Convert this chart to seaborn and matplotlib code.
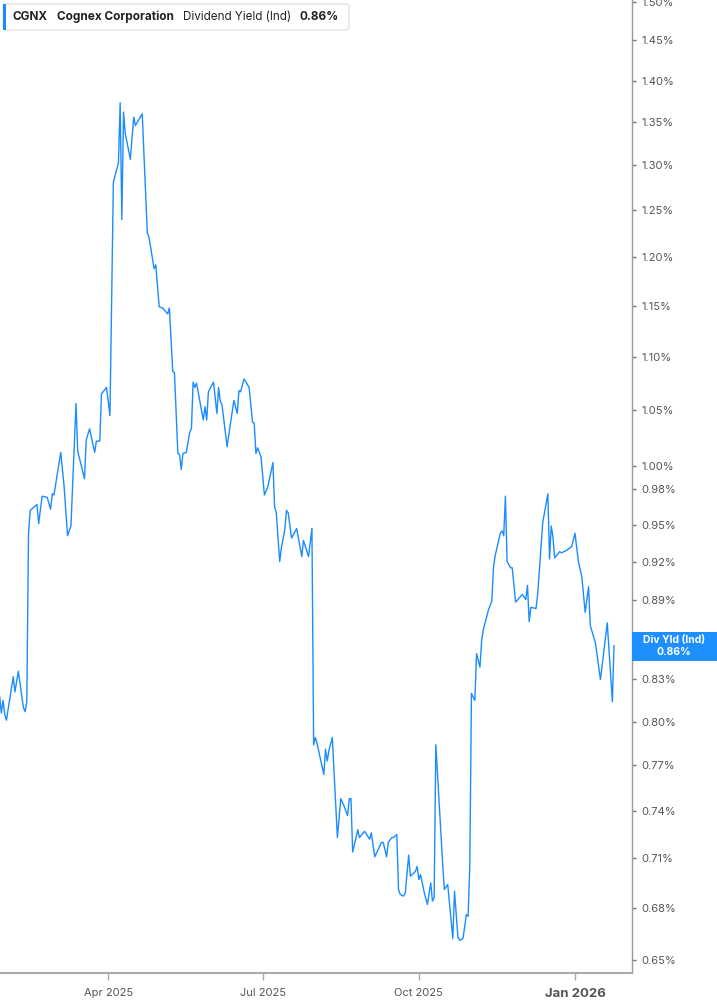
import pandas as pd
import numpy as np
import matplotlib.pyplot as plt
import matplotlib.dates as mdates
from matplotlib.patches import Rectangle, FancyBboxPatch
from matplotlib.ticker import FixedLocator, FuncFormatter, NullLocator
import seaborn as sns

sns.set_style('white')
plt.rcParams['font.family'] = ['Inter', 'DejaVu Sans']

# dividend yield (%)
dates = ['2025-01-27', '2025-01-28', '2025-01-29', '2025-01-30', '2025-01-31', '2025-02-04',
         '2025-02-05', '2025-02-07', '2025-02-10', '2025-02-11', '2025-02-12', '2025-02-13',
         '2025-02-14', '2025-02-18', '2025-02-19', '2025-02-21', '2025-02-24', '2025-02-26',
         '2025-02-27', '2025-02-28', '2025-03-04', '2025-03-06', '2025-03-08', '2025-03-10',
         '2025-03-13', '2025-03-14', '2025-03-18', '2025-03-19', '2025-03-21', '2025-03-24',
         '2025-03-25', '2025-03-27', '2025-03-28', '2025-03-31', '2025-04-02', '2025-04-04',
         '2025-04-07', '2025-04-08', '2025-04-09', '2025-04-10', '2025-04-11', '2025-04-14',
         '2025-04-16', '2025-04-17', '2025-04-21', '2025-04-24', '2025-04-25', '2025-04-28',
         '2025-04-29', '2025-05-01', '2025-05-03', '2025-05-06', '2025-05-07', '2025-05-09',
         '2025-05-10', '2025-05-12', '2025-05-13', '2025-05-14', '2025-05-15', '2025-05-17',
         '2025-05-19', '2025-05-20', '2025-05-21', '2025-05-22', '2025-05-23', '2025-05-27',
         '2025-05-28', '2025-05-29', '2025-05-30', '2025-06-02', '2025-06-04', '2025-06-05',
         '2025-06-06', '2025-06-07', '2025-06-10', '2025-06-12', '2025-06-14', '2025-06-16',
         '2025-06-17', '2025-06-18', '2025-06-20', '2025-06-23', '2025-06-25', '2025-06-26',
         '2025-06-27', '2025-06-28', '2025-06-30', '2025-07-02', '2025-07-04', '2025-07-07',
         '2025-07-08', '2025-07-09', '2025-07-11', '2025-07-12', '2025-07-14', '2025-07-15',
         '2025-07-16', '2025-07-18', '2025-07-21', '2025-07-24', '2025-07-25', '2025-07-28',
         '2025-07-30', '2025-07-31', '2025-08-01', '2025-08-02', '2025-08-06', '2025-08-07',
         '2025-08-08', '2025-08-09', '2025-08-11', '2025-08-14', '2025-08-16', '2025-08-18',
         '2025-08-20', '2025-08-21', '2025-08-22', '2025-08-23', '2025-08-25', '2025-08-26',
         '2025-08-27', '2025-08-30', '2025-09-02', '2025-09-03', '2025-09-05', '2025-09-09',
         '2025-09-10', '2025-09-12', '2025-09-13', '2025-09-15', '2025-09-16', '2025-09-18',
         '2025-09-19', '2025-09-20', '2025-09-22', '2025-09-23', '2025-09-25', '2025-09-26',
         '2025-09-29', '2025-09-30', '2025-10-01', '2025-10-02', '2025-10-04', '2025-10-06',
         '2025-10-08', '2025-10-09', '2025-10-10', '2025-10-11', '2025-10-15', '2025-10-16',
         '2025-10-18', '2025-10-21', '2025-10-22', '2025-10-24', '2025-10-25', '2025-10-27',
         '2025-10-29', '2025-10-30', '2025-10-31', '2025-11-01', '2025-11-03', '2025-11-04',
         '2025-11-06', '2025-11-07', '2025-11-08', '2025-11-11', '2025-11-13', '2025-11-14',
         '2025-11-15', '2025-11-18', '2025-11-19', '2025-11-20', '2025-11-21', '2025-11-22',
         '2025-11-24', '2025-11-25', '2025-11-27', '2025-12-01', '2025-12-03', '2025-12-04',
         '2025-12-05', '2025-12-06', '2025-12-09', '2025-12-10', '2025-12-13', '2025-12-16',
         '2025-12-17', '2025-12-18', '2025-12-19', '2025-12-20', '2025-12-23', '2025-12-24',
         '2025-12-27', '2025-12-30', '2026-01-01', '2026-01-03', '2026-01-05', '2026-01-07',
         '2026-01-09', '2026-01-10', '2026-01-13', '2026-01-16', '2026-01-20', '2026-01-23',
         '2026-01-24']
yields = [0.818, 0.806, 0.815, 0.805, 0.801, 0.832,
          0.821, 0.836, 0.810, 0.807, 0.814, 0.943,
          0.962, 0.967, 0.951, 0.974, 0.973, 0.963,
          0.976, 0.975, 1.012, 0.982, 0.941, 0.949,
          1.056, 1.013, 0.989, 1.023, 1.033, 1.012,
          1.022, 1.022, 1.065, 1.071, 1.045, 1.281,
          1.303, 1.373, 1.240, 1.362, 1.337, 1.307,
          1.356, 1.346, 1.360, 1.226, 1.221, 1.188,
          1.192, 1.149, 1.148, 1.142, 1.148, 1.086,
          1.085, 1.011, 1.010, 0.997, 1.011, 1.012,
          1.030, 1.033, 1.076, 1.071, 1.075, 1.041,
          1.053, 1.041, 1.067, 1.076, 1.047, 1.071,
          1.058, 1.055, 1.017, 1.038, 1.059, 1.047,
          1.068, 1.067, 1.079, 1.071, 1.039, 1.038,
          1.011, 1.016, 1.008, 0.975, 0.982, 1.003,
          0.965, 0.960, 0.920, 0.931, 0.946, 0.962,
          0.960, 0.939, 0.947, 0.924, 0.937, 0.924,
          0.947, 0.784, 0.789, 0.785, 0.764, 0.781,
          0.773, 0.780, 0.789, 0.723, 0.748, 0.743,
          0.737, 0.748, 0.748, 0.714, 0.723, 0.728,
          0.723, 0.727, 0.722, 0.726, 0.711, 0.720,
          0.720, 0.711, 0.720, 0.723, 0.723, 0.725,
          0.691, 0.688, 0.687, 0.689, 0.712, 0.699,
          0.702, 0.705, 0.697, 0.700, 0.690, 0.682,
          0.695, 0.684, 0.686, 0.784, 0.707, 0.691,
          0.694, 0.662, 0.690, 0.663, 0.661, 0.662,
          0.676, 0.675, 0.705, 0.820, 0.815, 0.849,
          0.839, 0.859, 0.867, 0.882, 0.889, 0.916,
          0.925, 0.943, 0.945, 0.941, 0.974, 0.920,
          0.915, 0.915, 0.888, 0.894, 0.890, 0.901,
          0.873, 0.884, 0.883, 0.894, 0.952, 0.976,
          0.922, 0.949, 0.940, 0.923, 0.928, 0.927,
          0.929, 0.932, 0.943, 0.920, 0.908, 0.880,
          0.900, 0.870, 0.857, 0.830, 0.872, 0.814,
          0.855]

# 0.86% sits under the last-value box, so it is left out
ytick_vals = [0.65, 0.68, 0.71, 0.74, 0.77, 0.80, 0.83, 0.89, 0.92, 0.95, 0.98,
              1.00, 1.05, 1.10, 1.15, 1.20, 1.25, 1.30, 1.35, 1.40, 1.45, 1.50]
xtick_dates = ['2025-04-01', '2025-07-01', '2025-10-01', '2026-01-01']
xtick_labels = ['Apr 2025', 'Jul 2025', 'Oct 2025', 'Jan 2026']

df = pd.DataFrame({'Date': pd.to_datetime(dates), 'Yield': yields})

W, H = 717, 1005
fig = plt.figure(figsize=(W / 100, H / 100), dpi=100)
ax = fig.add_axes([0, 32 / H, 632 / W, 1 - 32 / H])

sns.lineplot(data=df, x='Date', y='Yield', ax=ax, color='#1a8cff', linewidth=1.0)

ax.set_yscale('log')
ax.set_ylim(0.6424, 1.502)
ax.set_xlim(pd.Timestamp('2025-01-27 05:00'), pd.Timestamp('2026-02-03 14:00'))

ax.yaxis.tick_right()
ax.yaxis.set_major_locator(FixedLocator(ytick_vals))
ax.yaxis.set_minor_locator(NullLocator())
ax.yaxis.set_major_formatter(FuncFormatter(lambda v, p: f'{v:.2f}%'))
ax.tick_params(axis='y', which='major', right=True, left=False, length=3, width=1,
               color='#777777', labelsize=8, labelcolor='#555555', pad=4)

ax.set_xticks(pd.to_datetime(xtick_dates))
ax.set_xticklabels(xtick_labels)
ax.tick_params(axis='x', bottom=True, length=5, width=1, color='#aaaaaa',
               labelsize=8, labelcolor='#555555', pad=6)
jan = ax.get_xticklabels()[-1]
jan.set_fontweight('bold')
jan.set_fontsize(9.5)

ax.set_xlabel('')
ax.set_ylabel('')
for s in ['top', 'left']:
    ax.spines[s].set_visible(False)
ax.spines['right'].set_color('#999999')
ax.spines['bottom'].set_color('#aaaaaa')
ax.spines['right'].set_linewidth(1)
ax.spines['bottom'].set_linewidth(1.5)


def fx(px):
    return px / W


def fy(py):
    return 1 - py / H


# header box
fig.add_artist(FancyBboxPatch((fx(3), fy(30)), fx(346), 26 / H,
                              boxstyle='round,pad=0,rounding_size=0.004',
                              transform=fig.transFigure, facecolor='white',
                              edgecolor='#e2e2e2', linewidth=1, zorder=5))
fig.add_artist(Rectangle((fx(3), fy(30)), fx(3), 26 / H, transform=fig.transFigure,
                         facecolor='#1a8cff', edgecolor='none', zorder=6))
fig.text(fx(13), fy(17), 'CGNX', fontsize=8.5, fontweight='bold', color='#222222',
         va='center', zorder=7)
fig.text(fx(57), fy(17), 'Cognex Corporation', fontsize=8.5, fontweight='bold',
         color='#222222', va='center', zorder=7)
fig.text(fx(183), fy(17), 'Dividend Yield (Ind)', fontsize=8.4, color='#222222',
         va='center', zorder=7)
fig.text(fx(300), fy(17), '0.86%', fontsize=8.5, fontweight='bold', color='#222222',
         va='center', zorder=7)

# last value label
fig.add_artist(Rectangle((fx(632), fy(661)), fx(85), 29 / H, transform=fig.transFigure,
                         facecolor='#1e8fff', edgecolor='none', zorder=5))
fig.text(fx(674), fy(640), 'Div Yld (Ind)', fontsize=7.5, fontweight='bold',
         color='white', ha='center', va='center', zorder=6)
fig.text(fx(674), fy(652), '0.86%', fontsize=7.5, fontweight='bold',
         color='white', ha='center', va='center', zorder=6)

fig.savefig('out.png', dpi=100)
